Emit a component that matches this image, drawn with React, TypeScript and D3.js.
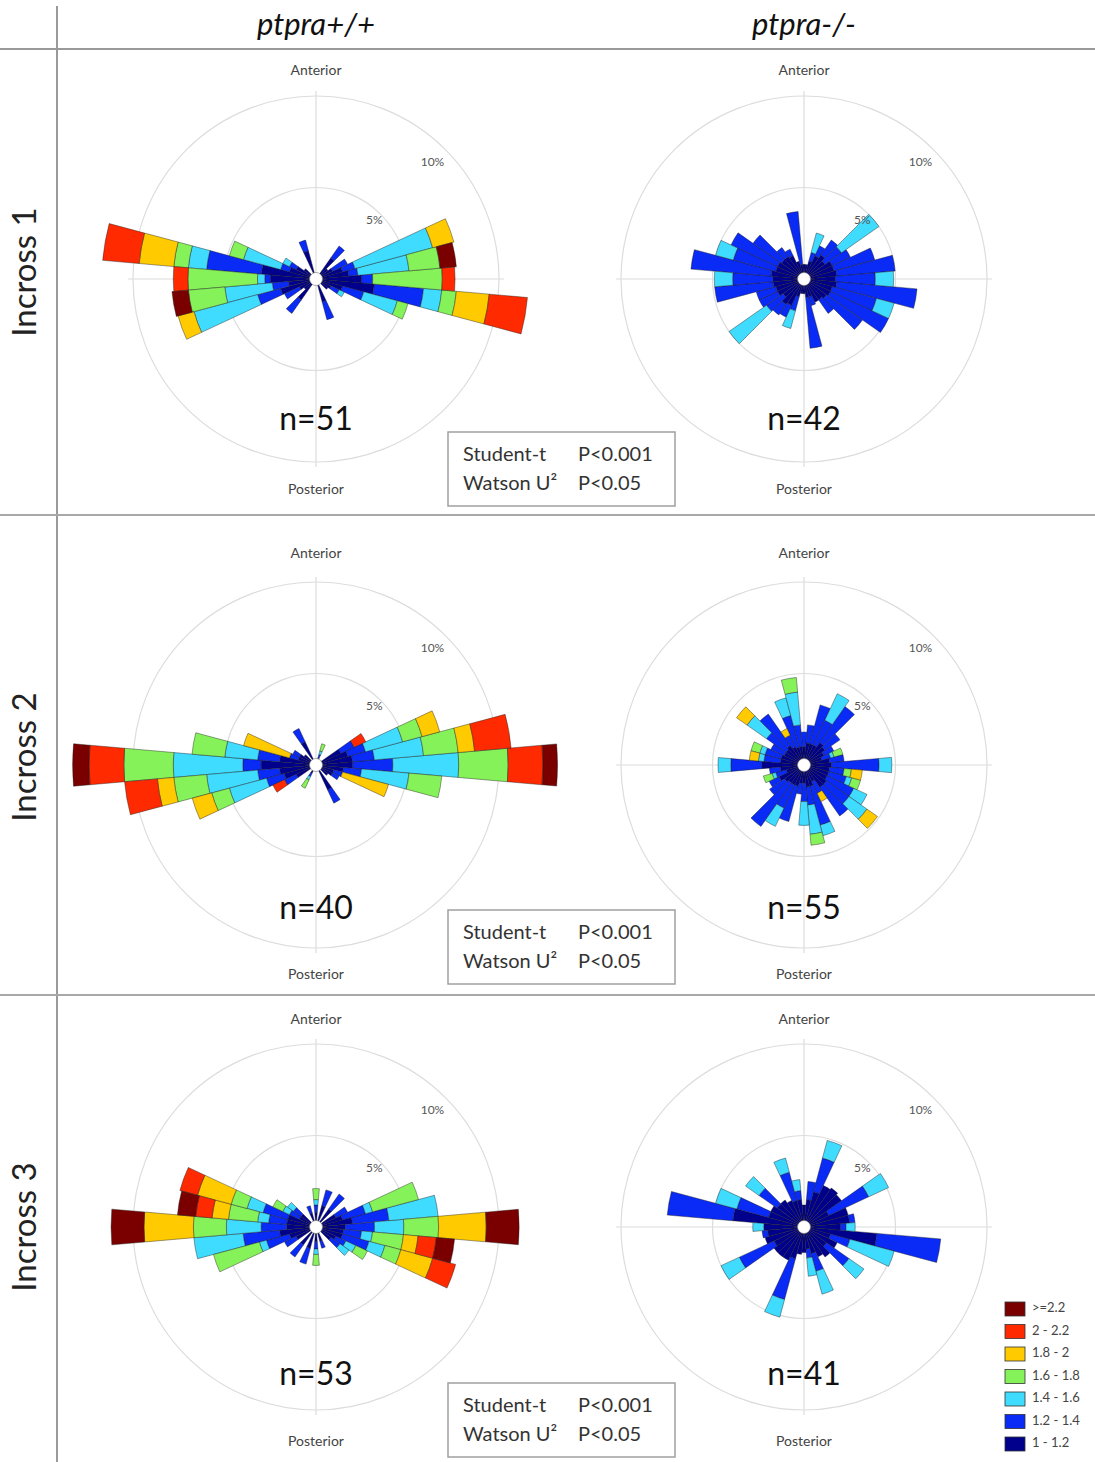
import { useEffect, useRef } from "react";
import * as d3 from "d3";

// speed classes, inner (slow) to outer (fast)
const bands = ["1 - 1.2", "1.2 - 1.4", "1.4 - 1.6", "1.6 - 1.8", "1.8 - 2", "2 - 2.2", ">=2.2"];
const bandColors = ["#00008c", "#0a2af5", "#40dcff", "#86f25a", "#ffcb00", "#ff2a00", "#7a0000"];

const genotypes = ["ptpra+/+", "ptpra-/-"];
const incrosses = ["Incross 1", "Incross 2", "Incross 3"];
const sampleSizes = [[51, 42], [40, 55], [53, 41]];
const statTests = ["Student-t", "Watson U\u00b2"];
const statPs = ["P<0.001", "P<0.05"];
const ringTicks = [5, 10];

// [bin angle (deg, clockwise from anterior), % per band inner -> outer]
const wt1 = [
  [280, 3.0, 3.0, 1.0, 0.8, 1.9, 2.0],
  [290, 1.5, 0.5, 2.1, 0.8],
  [300, 1.2, 0.4, 0.4],
  [310, 0.8],
  [270, 2.5, 0.3, 0.4, 3.8, 0, 0.8],
  [260, 1.5, 0.9, 2.6, 2.0, 0, 0, 0.9],
  [250, 2.0, 1.3, 3.6, 0, 0.9],
  [240, 1.0, 0.9],
  [230, 0.8],
  [220, 1.4, 0.9],
  [100, 3.2, 2.7, 1.0, 0.8, 1.8, 2.1],
  [90, 2.5, 0.6, 0, 3.8, 0, 0.7],
  [80, 1.8, 0.5, 2.8, 1.7, 0, 0, 0.9],
  [70, 1.5, 0.7, 4.4, 0, 1.2],
  [60, 1.0, 0.9],
  [50, 0.8],
  [40, 1.4, 0.8],
  [110, 1.5, 1.2, 1.9, 0.6],
  [120, 0.9, 0.5, 0.3],
  [130, 0.8],
  [160, 1.3, 1.0],
  [340, 1.6, 0.6],
];

const ko1 = [
  [0, 0.8], [10, 0.8],
  [20, 1.0, 0.5, 1.1],
  [30, 1.4, 0.6],
  [40, 1.6, 1.0],
  [50, 1.4, 1.1, 2.5],
  [60, 1.7, 1.1],
  [70, 1.7, 2.3],
  [80, 1.8, 3.2],
  [90, 1.7, 2.2, 1.0],
  [100, 1.8, 4.4],
  [110, 1.6, 2.5, 1.0],
  [120, 1.6, 3.5],
  [130, 1.5, 2.4],
  [140, 1.4, 0.9],
  [150, 1.4],
  [160, 1.0, 0.5],
  [170, 1.0, 2.8],
  [180, 0.8], [190, 0.8],
  [200, 1.0, 0.8, 1.0],
  [210, 1.6, 0.7],
  [220, 1.7, 0.7],
  [230, 1.4, 1.1, 2.5],
  [240, 1.6, 1.1],
  [250, 1.6, 1.1],
  [260, 1.7, 3.2],
  [270, 1.7, 2.2, 1.0],
  [280, 1.8, 4.4],
  [290, 1.6, 2.4, 1.0],
  [300, 1.6, 2.8],
  [310, 1.5, 1.9],
  [320, 1.5, 0.6],
  [330, 1.4, 0.4],
  [340, 1.0],
  [350, 0.8, 2.9],
];

const wt2 = [
  [90, 2.0, 2.2, 3.6, 2.7, 0, 1.9, 0.8],
  [80, 2.0, 1.2, 2.7, 1.9, 0.9, 2.0],
  [70, 1.8, 1.0, 2.1, 1.1, 1.0],
  [60, 1.5, 0.8, 0, 0, 0, 0.7],
  [100, 1.5, 1.0, 2.6, 1.8],
  [110, 1.0, 0.5, 0, 0, 2.6],
  [120, 1.0, 0.4],
  [130, 0.8],
  [150, 1.5, 0.8],
  [20, 0.4, 0.2, 0.2, 0.4],
  [330, 1.4, 0.8],
  [210, 0.5, 0.2, 0.2, 0.5],
  [270, 3.0, 1.0, 3.8, 2.7, 0, 1.9, 0.9],
  [260, 2.0, 1.2, 2.8, 1.8, 0.9, 1.8],
  [250, 1.8, 1.0, 2.1, 1.0, 1.1],
  [240, 1.2, 0.7, 0, 0, 0, 0.7],
  [280, 2.0, 1.2, 1.8, 1.8],
  [290, 1.0, 0.5, 0, 0, 2.6],
  [300, 1.0, 0.4],
  [310, 0.8],
];

const ko2 = [
  [0, 1.0, 0.8],
  [10, 1.2, 1.0],
  [20, 1.2, 2.2],
  [30, 1.2, 1.5, 1.6],
  [40, 1.5, 2.4],
  [50, 1.4, 1.0],
  [60, 1.2, 0.6],
  [70, 1.0, 0.5, 0.2, 0.5],
  [80, 1.4, 0.8],
  [90, 1.5, 2.6, 0.7],
  [100, 1.4, 0.8, 0, 0.4, 0.6],
  [110, 1.4, 1.0, 0.3, 0.5],
  [120, 1.4, 1.6, 0.8],
  [130, 1.5, 1.5, 1.2, 0, 0.7],
  [140, 1.5, 1.9],
  [150, 1.0, 0.7, 0, 0, 0.5],
  [160, 1.2, 2.2, 0.6],
  [170, 1.2, 1.0, 1.6, 0.6],
  [180, 1.0, 1.0, 1.3],
  [190, 1.0, 0.6],
  [200, 1.2, 2.0],
  [210, 1.2, 1.4, 1.1],
  [220, 1.2, 2.9],
  [230, 1.3, 1.0],
  [240, 1.5, 0.6],
  [250, 1.0, 0.6, 0.2, 0.5],
  [260, 1.3, 0.6],
  [270, 2.3, 1.7, 0.7],
  [280, 1.3, 0.9, 0.3, 0, 0.5],
  [290, 1.3, 0.9, 0.3, 0.5],
  [300, 1.2, 0.8],
  [310, 1.2, 1.3, 1.3, 0, 0.7],
  [320, 1.3, 2.1],
  [330, 1.1, 0.7, 0, 0, 0.4],
  [340, 1.0, 1.8, 1.0],
  [350, 1.0, 1.2, 1.8, 0.8],
];

const wt3 = [
  [90, 1.6, 1.6, 1.6, 1.9, 2.6, 0, 1.8],
  [80, 2.0, 2.0, 2.7],
  [70, 1.5, 1.3, 0.4, 2.6],
  [60, 1.2, 0.7],
  [40, 1.2, 1.0],
  [20, 1.2, 0.9],
  [0, 0.8, 0.4, 0.3, 0.6],
  [100, 1.5, 1.0, 0.6, 1.7, 0.8, 1.0, 1.0],
  [110, 1.5, 1.5, 0.9, 0.9, 1.8, 1.3],
  [120, 1.2, 0.6, 0.6, 0.7],
  [130, 1.0, 0.6, 0.6],
  [160, 0.8, 0.4],
  [180, 0.8, 0.4, 0.3, 0.6],
  [200, 1.2, 0.9],
  [220, 1.2, 0.8],
  [240, 1.2, 0.7],
  [250, 1.5, 1.3, 0.4, 2.6],
  [260, 2.0, 2.0, 2.7],
  [270, 1.6, 1.4, 1.9, 1.8, 2.7, 0, 1.8],
  [280, 1.6, 1.0, 0.6, 1.6, 0.9, 0.9, 1.0],
  [290, 1.6, 1.4, 0.9, 0.9, 1.9, 1.0],
  [300, 1.0, 0.6, 0.4, 0.6],
  [310, 1.0, 0.5, 0.4],
  [340, 0.8, 0.4],
];

const ko3 = [
  [0, 1.2],
  [10, 1.5, 1.0],
  [20, 2.0, 1.9, 1.0],
  [30, 2.5], [40, 2.6], [50, 2.5],
  [60, 1.5, 2.4, 1.2],
  [70, 2.5],
  [80, 2.5, 0.3],
  [90, 2.0, 0.3, 0.5],
  [100, 4.0, 3.5],
  [110, 1.5, 1.1, 2.5],
  [120, 2.0],
  [130, 1.5, 1.5, 1.0],
  [140, 2.0],
  [150, 1.8],
  [160, 1.5, 1.0, 1.3],
  [170, 1.2, 0.5, 1.0],
  [180, 1.4],
  [190, 1.5],
  [200, 1.8, 2.3, 1.0],
  [210, 2.0],
  [220, 2.0],
  [230, 2.0],
  [240, 1.8, 2.1, 1.1],
  [250, 2.2],
  [260, 2.0, 0.3],
  [270, 2.2, 0, 0.6],
  [280, 3.9, 3.6],
  [290, 2.0, 1.8, 1.2],
  [300, 2.0],
  [310, 1.8, 1.2, 0.9],
  [320, 1.8],
  [330, 1.6],
  [340, 1.5, 1.6, 0.8],
  [350, 1.5, 0.5, 0.6],
];

const roses = [[wt1, ko1], [wt2, ko2], [wt3, ko3]];

// layout
const W = 1095, H = 1462;
const colX = [316, 804];
const rowCY = [279, 765, 1227];
const rowLabelY = [272, 757, 1227];
const anteriorY = [71, 554, 1020];
const posteriorY = [490, 975, 1442];
const nLabelY = [422, 911, 1377];
const boxTop = [432, 910, 1383];
const rowLines = [515, 995];
const FONT = "Lato, 'Open Sans', sans-serif";

export default function App() {
  const ref = useRef(null);

  useEffect(() => {
    document.body.style.margin = "0";
    const root = d3.select(ref.current);
    root.selectAll("*").remove();
    const svg = root.append("svg")
      .attr("width", W)
      .attr("height", H)
      .attr("viewBox", [0, 0, W, H])
      .style("display", "block")
      .style("font-family", FONT);

    svg.append("rect").attr("width", W).attr("height", H).attr("fill", "white");

    // frame lines
    svg.append("line").attr("x1", 0).attr("x2", W).attr("y1", 49).attr("y2", 49)
      .attr("stroke", "#9a9a9a").attr("stroke-width", 2);
    svg.append("line").attr("x1", 57).attr("x2", 57).attr("y1", 6).attr("y2", H)
      .attr("stroke", "#9a9a9a").attr("stroke-width", 2);
    svg.selectAll(".rowline").data(rowLines).join("line")
      .attr("x1", 0).attr("x2", W).attr("y1", d => d).attr("y2", d => d)
      .attr("stroke", "#a8a8a8").attr("stroke-width", 2);

    // headers
    svg.selectAll(".hdr").data(genotypes).join("text")
      .attr("x", (d, i) => colX[i]).attr("y", 27)
      .attr("text-anchor", "middle").attr("dominant-baseline", "middle")
      .attr("font-size", 31).attr("font-style", "italic").attr("fill", "#111")
      .text(d => d);

    // row labels
    svg.selectAll(".rowlab").data(incrosses).join("text")
      .attr("transform", (d, i) => `translate(28,${rowLabelY[i]}) rotate(-90)`)
      .attr("text-anchor", "middle").attr("dominant-baseline", "middle")
      .attr("font-size", 33).attr("fill", "#222")
      .text(d => d);

    const r = d3.scaleLinear().domain([0, 10]).range([0, 183]);
    const arc = d3.arc();
    const half = (5 * Math.PI) / 180;
    const stack = d3.stack()
      .keys(d3.range(bands.length))
      .value((row, k) => row[k + 1] ?? 0);

    roses.forEach((pair, ri) => {
      pair.forEach((rows, ci) => {
        const cx = colX[ci], cy = rowCY[ri];
        const g = svg.append("g").attr("transform", `translate(${cx},${cy})`);

        // grid
        g.selectAll(".ring").data(ringTicks).join("circle")
          .attr("r", d => r(d)).attr("fill", "none")
          .attr("stroke", "#dcdcdc").attr("stroke-width", 1.2);
        const ext = r(10) + 5;
        g.append("line").attr("x1", -ext).attr("x2", ext)
          .attr("stroke", "#dcdcdc").attr("stroke-width", 1.2);
        g.append("line").attr("y1", -ext).attr("y2", ext)
          .attr("stroke", "#dcdcdc").attr("stroke-width", 1.2);

        // stacked bins
        const series = stack(rows);
        series.forEach((s, k) => {
          g.append("g")
            .selectAll("path")
            .data(s.filter(d => d[1] - d[0] > 0))
            .join("path")
            .attr("d", d => {
              const a = (d.data[0] * Math.PI) / 180;
              return arc({ innerRadius: r(d[0]), outerRadius: r(d[1]), startAngle: a - half, endAngle: a + half });
            })
            .attr("fill", bandColors[k])
            .attr("stroke", "#1a1a1a").attr("stroke-opacity", 0.7).attr("stroke-width", 0.6);
        });

        g.append("circle").attr("r", 6.5).attr("fill", "white")
          .attr("stroke", "#777").attr("stroke-width", 0.6);

        // tick labels at 45 deg
        g.selectAll(".tick").data(ringTicks).join("text")
          .attr("x", d => r(d) * 0.9 * Math.SQRT1_2)
          .attr("y", d => -r(d) * 0.9 * Math.SQRT1_2)
          .attr("text-anchor", "middle").attr("dominant-baseline", "middle")
          .attr("font-size", 12).attr("fill", "#555")
          .text(d => `${d}%`);

        svg.append("text").attr("x", cx).attr("y", anteriorY[ri])
          .attr("text-anchor", "middle").attr("dominant-baseline", "middle")
          .attr("font-size", 14).attr("fill", "#444").text("Anterior");
        svg.append("text").attr("x", cx).attr("y", posteriorY[ri])
          .attr("text-anchor", "middle").attr("dominant-baseline", "middle")
          .attr("font-size", 14).attr("fill", "#444").text("Posterior");
        svg.append("text").attr("x", cx).attr("y", nLabelY[ri])
          .attr("text-anchor", "middle").attr("dominant-baseline", "middle")
          .attr("font-size", 32).attr("fill", "#111").text(`n=${sampleSizes[ri][ci]}`);
      });

      // stats box
      const bx = svg.append("g").attr("transform", `translate(448,${boxTop[ri]})`);
      bx.append("rect").attr("width", 227).attr("height", 74)
        .attr("fill", "white").attr("stroke", "#a0a0a0").attr("stroke-width", 1.5);
      statTests.forEach((t, j) => {
        bx.append("text").attr("x", 15).attr("y", 24 + j * 29)
          .attr("dominant-baseline", "middle").attr("font-size", 20).attr("fill", "#333").text(t);
        bx.append("text").attr("x", 130).attr("y", 24 + j * 29)
          .attr("dominant-baseline", "middle").attr("font-size", 20).attr("fill", "#333").text(statPs[j]);
      });
    });

    // legend, fastest on top
    const leg = svg.append("g").attr("transform", "translate(1005,1302)");
    const legOrder = d3.range(bands.length).reverse();
    leg.selectAll("rect").data(legOrder).join("rect")
      .attr("y", (d, i) => i * 22.5).attr("width", 20).attr("height", 14)
      .attr("fill", d => bandColors[d]).attr("stroke", "#333").attr("stroke-width", 0.8);
    leg.selectAll("text").data(legOrder).join("text")
      .attr("x", 27).attr("y", (d, i) => i * 22.5 + 7)
      .attr("dominant-baseline", "middle").attr("font-size", 13).attr("fill", "#444")
      .text(d => bands[d]);
  }, []);

  return <div ref={ref}></div>;
}
